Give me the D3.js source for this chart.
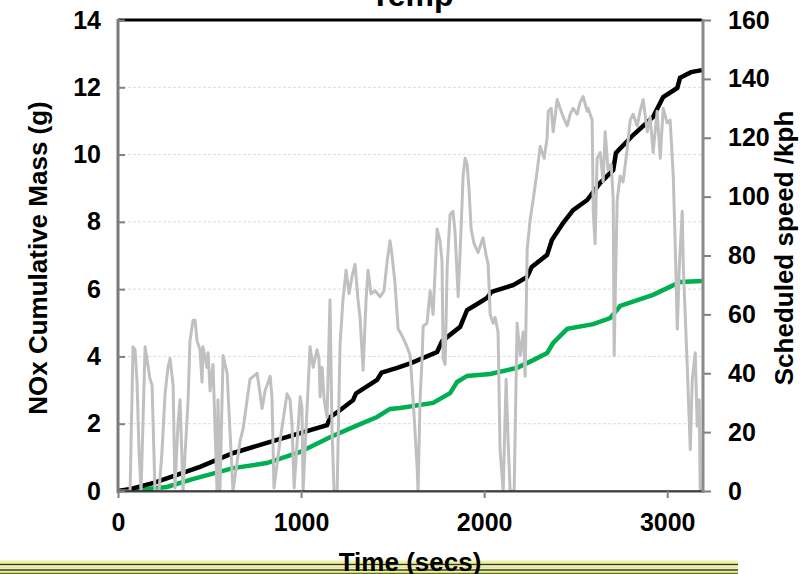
<!DOCTYPE html>
<html lang="en">
<head>
    <meta charset="UTF-8">
    <title>Temp</title>
    <script src="https://d3js.org/d3.v7.min.js"></script>
    <style>
        body { margin: 0; background: #fff; }
        svg text { font-family: "Liberation Sans", Arial, sans-serif; font-weight: bold; fill: #000; }
        .tick line { stroke: #808080; stroke-width: 2px; }
        .domain { display: none; }
    </style>
</head>
<body>
<div id="chart"></div>
<script>
    // cumulative NOx (g), black trace: [time s, mass g]
    const noxTotal = [
        [0, 0], [60, 0.05], [200, 0.25], [448, 0.72], [630, 1.13], [813, 1.43], [995, 1.72],
        [1142, 1.96], [1160, 2.2], [1200, 2.35], [1284, 2.7], [1300, 2.9], [1415, 3.3],
        [1440, 3.52], [1525, 3.66], [1600, 3.8], [1743, 4.13], [1770, 4.45], [1869, 4.88],
        [1907, 5.38], [1960, 5.55], [2016, 5.74], [2040, 5.92], [2158, 6.12], [2235, 6.36],
        [2260, 6.66], [2344, 7.02], [2370, 7.46], [2432, 7.97], [2486, 8.35], [2563, 8.65],
        [2634, 9.16], [2705, 9.54], [2720, 10.05], [2814, 10.58], [2923, 11.12], [2978, 11.71],
        [3055, 11.98], [3070, 12.28], [3130, 12.45], [3190, 12.51]
    ];

    // cumulative NOx (g), green trace
    const noxGreen = [
        [40, 0], [268, 0.12], [393, 0.33], [628, 0.68], [813, 0.83], [995, 1.16], [1158, 1.6],
        [1284, 1.9], [1415, 2.2], [1486, 2.44], [1541, 2.47], [1721, 2.62], [1814, 2.91],
        [1852, 3.24], [1907, 3.42], [2033, 3.48], [2180, 3.66], [2268, 3.89], [2344, 4.1],
        [2377, 4.4], [2454, 4.82], [2596, 4.96], [2688, 5.14], [2743, 5.5], [2923, 5.83],
        [3000, 6.03], [3071, 6.21], [3190, 6.24]
    ];

    // scheduled speed (kph), grey trace
    const speed = [
        [0, 0], [66, 0], [82, 49], [93, 48], [104, 37], [115, 13], [126, 0], [148, 49], [175, 38],
        [186, 36], [202, 0], [224, 0], [240, 13], [257, 33], [273, 42], [284, 45], [301, 36],
        [311, 1], [328, 23], [339, 31], [355, 0], [383, 31], [393, 51], [410, 58], [421, 58],
        [432, 51], [448, 48], [459, 37], [464, 49], [486, 42], [492, 47], [503, 34], [519, 43],
        [541, 0], [546, 31], [557, 0], [574, 46], [596, 40], [612, 20], [628, 0], [667, 17],
        [683, 21], [721, 38], [760, 40], [787, 28], [803, 34], [831, 39], [841, 32], [852, 1],
        [885, 17], [923, 33], [940, 31], [951, 22], [962, 1], [995, 32], [1005, 28], [1011, 0],
        [1049, 49], [1066, 42], [1087, 48], [1098, 45], [1104, 32], [1115, 42], [1126, 31],
        [1142, 25], [1158, 65], [1169, 21], [1180, 0], [1197, 0], [1213, 50], [1229, 65],
        [1246, 75], [1262, 67], [1279, 73], [1295, 77], [1311, 65], [1322, 59], [1339, 41],
        [1355, 65], [1366, 75], [1382, 67], [1404, 68], [1432, 66], [1453, 68], [1470, 78],
        [1486, 85], [1497, 80], [1514, 70], [1530, 55], [1541, 54], [1557, 52], [1579, 49],
        [1596, 46], [1612, 31], [1634, 8], [1639, 0], [1650, 31], [1661, 45], [1667, 56],
        [1688, 57], [1705, 68], [1721, 60], [1743, 89], [1759, 85], [1770, 78], [1776, 45],
        [1787, 43], [1798, 76], [1814, 94], [1830, 95], [1841, 88], [1858, 66], [1874, 89],
        [1885, 107], [1896, 113], [1907, 111], [1918, 102], [1929, 89], [1945, 84], [1967, 81],
        [1994, 86], [2011, 80], [2022, 77], [2033, 60], [2049, 57], [2060, 59], [2076, 54],
        [2087, 14], [2104, 0], [2120, 38], [2131, 17], [2142, 0], [2164, 0], [2180, 57],
        [2197, 46], [2213, 54], [2224, 39], [2235, 82], [2251, 92], [2268, 99], [2279, 104],
        [2290, 109], [2306, 117], [2328, 113], [2344, 120], [2350, 129], [2366, 130], [2377, 122],
        [2399, 133], [2415, 130], [2432, 127], [2454, 124], [2470, 128], [2486, 130], [2508, 128],
        [2524, 132], [2541, 134], [2563, 129], [2568, 130], [2590, 126], [2596, 95], [2606, 84],
        [2617, 113], [2634, 115], [2650, 105], [2661, 122], [2677, 109], [2694, 111], [2705, 99],
        [2710, 46], [2721, 82], [2727, 99], [2743, 107], [2759, 105], [2781, 116], [2798, 126],
        [2814, 128], [2836, 124], [2852, 129], [2869, 133], [2891, 122], [2907, 127], [2923, 115],
        [2945, 129], [2962, 113], [2978, 130], [3000, 125], [3016, 126], [3033, 107], [3044, 83],
        [3055, 55], [3066, 76], [3082, 95], [3088, 76], [3109, 43], [3126, 14], [3137, 38],
        [3153, 47], [3164, 22], [3175, 31], [3180, 0]
    ];

    const xTicks = [0, 1000, 2000, 3000];
    const massTicks = [0, 2, 4, 6, 8, 10, 12, 14];
    const speedTicks = [0, 20, 40, 60, 80, 100, 120, 140, 160];

    const width = 800, height = 574;
    const plotL = 118, plotR = 702, plotT = 20, plotB = 491;

    const svg = d3.select("#chart").append("svg")
        .attr("width", width)
        .attr("height", height);

    const x = d3.scaleLinear().domain([0, 3190]).range([plotL, plotR]);
    const yMass = d3.scaleLinear().domain([0, 14]).range([plotB, plotT]);
    const ySpeed = d3.scaleLinear().domain([0, 160]).range([plotB, plotT]);

    // dashed grid
    svg.append("g")
        .selectAll("line")
        .data(massTicks.filter(d => d > 0 && d < 14))
        .enter().append("line")
        .attr("x1", plotL).attr("x2", plotR)
        .attr("y1", d => yMass(d)).attr("y2", d => yMass(d))
        .attr("stroke", "#dcdcdc")
        .attr("stroke-width", 1)
        .attr("stroke-dasharray", "3,2");

    const lineMass = d3.line().x(d => x(d[0])).y(d => yMass(d[1]));
    const lineSpeed = d3.line().x(d => x(d[0])).y(d => ySpeed(d[1]));

    svg.append("path").datum(noxGreen)
        .attr("d", lineMass)
        .attr("fill", "none")
        .attr("stroke", "#00b050")
        .attr("stroke-width", 4.5);

    svg.append("path").datum(noxTotal)
        .attr("d", lineMass)
        .attr("fill", "none")
        .attr("stroke", "#000")
        .attr("stroke-width", 4.5);

    svg.append("path").datum(speed)
        .attr("d", lineSpeed)
        .attr("fill", "none")
        .attr("stroke", "#c0c0c0")
        .attr("stroke-width", 3)
        .attr("stroke-linejoin", "round");

    // frame
    svg.append("line").attr("x1", plotL).attr("x2", plotR).attr("y1", plotT).attr("y2", plotT)
        .attr("stroke", "#000").attr("stroke-width", 3);
    svg.append("line").attr("x1", plotL).attr("x2", plotR).attr("y1", plotB + 1).attr("y2", plotB + 1)
        .attr("stroke", "#a0a0a0").attr("stroke-width", 2);
    svg.append("line").attr("x1", plotL).attr("x2", plotR).attr("y1", plotB).attr("y2", plotB)
        .attr("stroke", "#222").attr("stroke-width", 1.5);
    svg.append("line").attr("x1", plotL).attr("x2", plotL).attr("y1", plotT - 1).attr("y2", plotB + 2)
        .attr("stroke", "#7a7a7a").attr("stroke-width", 3);
    svg.append("line").attr("x1", plotR + 1).attr("x2", plotR + 1).attr("y1", plotT - 1).attr("y2", plotB + 2)
        .attr("stroke", "#8a8a8a").attr("stroke-width", 3);

    const axisFont = g => g.selectAll("text").style("font-size", "25px");

    svg.append("g")
        .attr("transform", `translate(${plotL},0)`)
        .call(d3.axisLeft(yMass).tickValues(massTicks).tickSize(-7).tickPadding(17))
        .call(axisFont);

    svg.append("g")
        .attr("transform", `translate(${plotR + 2},0)`)
        .call(d3.axisRight(ySpeed).tickValues(speedTicks).tickSize(7).tickPadding(17))
        .call(axisFont);

    svg.append("g")
        .attr("transform", `translate(0,${plotB})`)
        .call(d3.axisBottom(x).tickValues(xTicks).tickFormat(d3.format("d")).tickSize(7).tickPadding(15))
        .call(axisFont);

    // decorative slide rule at the bottom
    const rules = [
        {y: 562, c: "#eef3a0", w: 3},
        {y: 564.5, c: "#3a3a10", w: 1.5},
        {y: 567.5, c: "#dfe878", w: 2},
        {y: 570, c: "#3a3a10", w: 1.5},
        {y: 572.5, c: "#cfdc60", w: 2},
        {y: 574, c: "#3a3a10", w: 1.5}
    ];
    svg.append("g").selectAll("line")
        .data(rules)
        .enter().append("line")
        .attr("x1", 0).attr("x2", 738)
        .attr("y1", d => d.y).attr("y2", d => d.y)
        .attr("stroke", d => d.c)
        .attr("stroke-width", d => d.w);

    // titles
    svg.append("text")
        .attr("x", 412).attr("y", 6)
        .attr("text-anchor", "middle")
        .style("font-size", "32px")
        .text("Temp");

    svg.append("text")
        .attr("x", 410).attr("y", 571)
        .attr("text-anchor", "middle")
        .style("font-size", "26px")
        .text("Time (secs)");

    svg.append("text")
        .attr("transform", "translate(47,258) rotate(-90)")
        .attr("text-anchor", "middle")
        .style("font-size", "26px")
        .text("NOx Cumulative Mass (g)");

    svg.append("text")
        .attr("transform", "translate(793,248) rotate(-90)")
        .attr("text-anchor", "middle")
        .style("font-size", "26px")
        .text("Scheduled speed /kph");
</script>
</body>
</html>
